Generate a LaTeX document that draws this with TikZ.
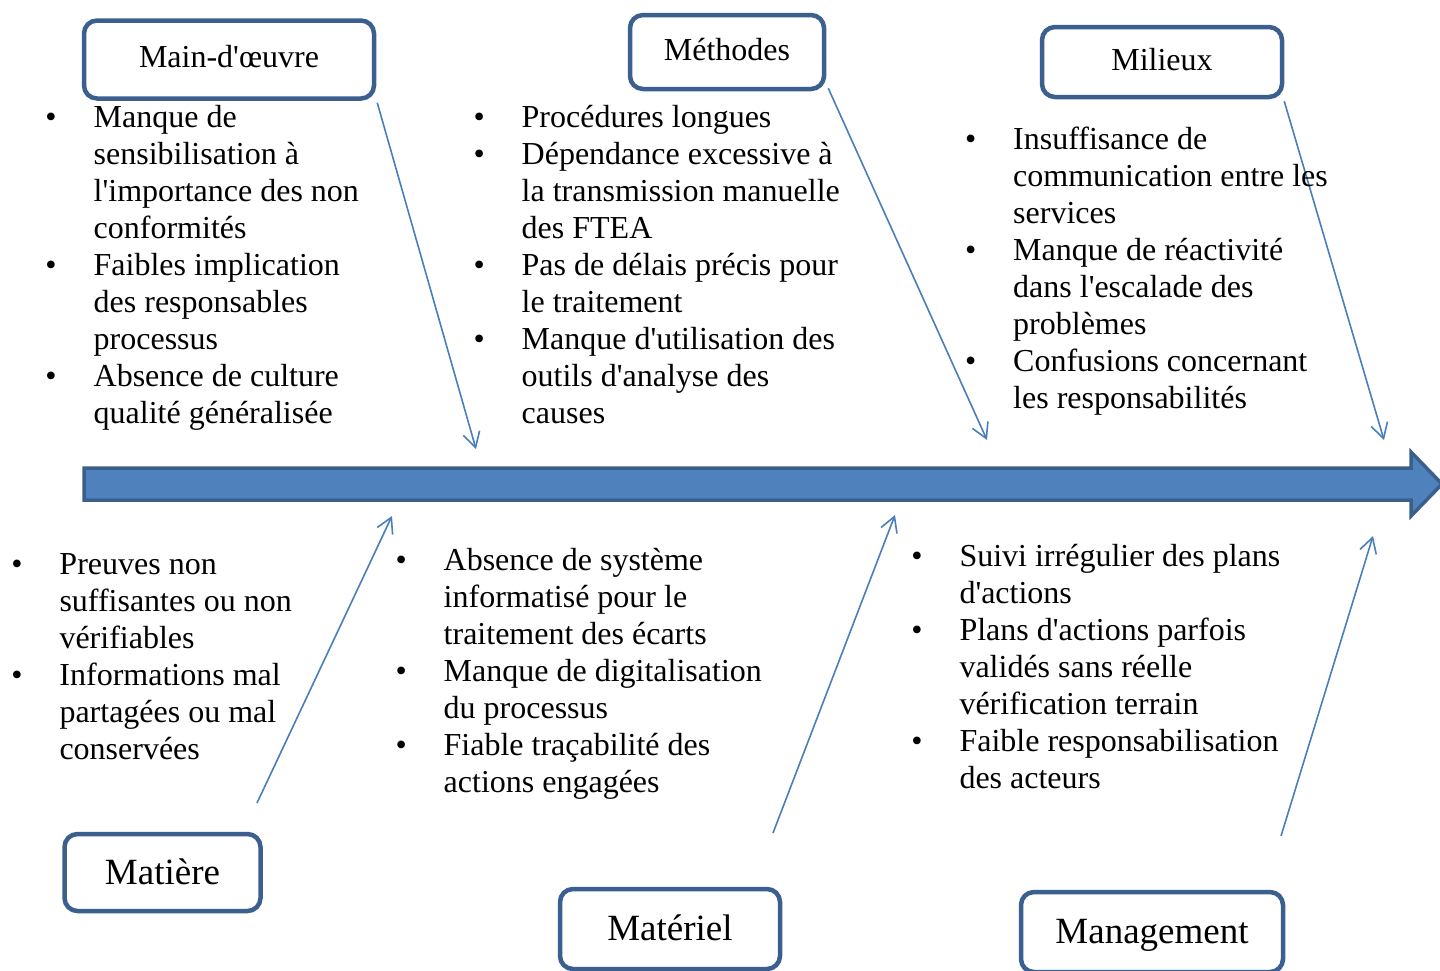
\documentclass[tikz,border=0pt]{standalone}
\usepackage{fontspec}
\setmainfont{Liberation Serif}[Ligatures=TeXOff]
\usetikzlibrary{arrows.meta}
\definecolor{spinefill}{HTML}{4F81BD}
\definecolor{spineedge}{HTML}{3A5F8C}
\definecolor{boxedge}{HTML}{3B5F8E}
\definecolor{boneline}{HTML}{4A7EBB}
% bullet set 37pt to the left of the text column
\newcommand{\itm}{\llap{\textbullet\hspace{37pt}}}
% box labels sit a little below the middle of their boxes
\newcommand{\lowsmall}[1]{\raisebox{-4.5pt}{#1}}
\newcommand{\lowbig}[1]{\raisebox{-7pt}{#1}}
\begin{document}
\begin{tikzpicture}[x=1pt,y=-1pt,
  catbox/.style={draw=boxedge, line width=4.5pt, rounded corners=13pt, fill=white,
    inner sep=0pt, text depth=0pt},
  smallcat/.style={catbox, font=\fontsize{32}{37}\selectfont, text height=0.78em},
  bigcat/.style={catbox, font=\fontsize{37}{42}\selectfont, text height=0.92em},
  bone/.style={draw=boneline, line width=1.6pt,
    -{Straight Barb[length=15pt,width=17pt,line width=1.6pt]}},
  causes/.style={anchor=north west, inner sep=0pt, align=left,
    font=\fontsize{32}{37}\selectfont},
]
\useasboundingbox (0,0) rectangle (1440,970);
\clip (0,0) rectangle (1440,970);

% spine of the fishbone
\draw[fill=spinefill, draw=spineedge, line width=3.5pt, line join=miter]
  (84,468) -- (1411,468) -- (1411,452) -- (1442,484) -- (1411,516)
  -- (1411,500) -- (84,500) -- cycle;

% category boxes
\node[smallcat, minimum width=290pt, minimum height=78pt] (mo)  at (229,59.5) {\lowsmall{Main-d'œuvre}};
\node[smallcat, minimum width=194pt, minimum height=74pt] (met) at (727,52) {\lowsmall{Méthodes}};
\node[smallcat, minimum width=240pt, minimum height=70pt] (mil) at (1162,62) {\lowsmall{Milieux}};
\node[bigcat, minimum width=196pt, minimum height=77pt] (mat) at (162.5,872.5) {\lowbig{Matière}};
\node[bigcat, minimum width=220pt, minimum height=80pt] (mtl) at (670,929) {\lowbig{Matériel}};
\node[bigcat, minimum width=262pt, minimum height=80pt] (mgt) at (1152,932) {\lowbig{Management}};

% ends of the bones
\coordinate (moE)  at (476,449);
\coordinate (metE) at (987,440);
\coordinate (milE) at (1384,440);
\coordinate (matS) at (257,803);
\coordinate (matE) at (392,516);
\coordinate (mtlS) at (773,833);
\coordinate (mtlE) at (895,515);
\coordinate (mgtS) at (1281,836);
\coordinate (mgtE) at (1373,536);

\draw[bone] (mo.south east) ++(1,2) -- (moE);
\draw[bone] (met.south east) ++(2,-3) -- (metE);
\draw[bone] (mil.south east) ++(0,2) -- (milE);
\draw[bone] (matS) -- (matE);
\draw[bone] (mtlS) -- (mtlE);
\draw[bone] (mgtS) -- (mgtE);

% causes
\node[causes] (moT) at (93.5,101.4) {\itm\strut Manque de\\
  sensibilisation à\\ l'importance des non\\ conformités\\
  \itm Faibles implication\\ des responsables\\ processus\\
  \itm Absence de culture\\ qualité généralisée};

\node[causes] (metT) at (521.5,101.3) {\itm\strut Procédures longues\\
  \itm Dépendance excessive à\\ la transmission manuelle\\ des FTEA\\
  \itm Pas de délais précis pour\\ le traitement\\
  \itm Manque d'utilisation des\\ outils d'analyse des\\ causes};

\node[causes] (milT) at (1013,123.5) {\itm\strut Insuffisance de\\
  communication entre les\\ services\\
  \itm Manque de réactivité\\ dans l'escalade des\\ problèmes\\
  \itm Confusions concernant\\ les responsabilités};

\node[causes] (matT) at (59.3,548.6) {\itm\strut Preuves non\\
  suffisantes ou non\\ vérifiables\\
  \itm Informations mal\\ partagées ou mal\\ conservées};

\node[causes] (mtlT) at (443.5,544.6) {\itm\strut Absence de système\\
  informatisé pour le\\ traitement des écarts\\
  \itm Manque de digitalisation\\ du processus\\
  \itm Fiable traçabilité des\\ actions engagées};

\node[causes] (mgtT) at (959.3,540.6) {\itm\strut Suivi irrégulier des plans\\
  d'actions\\
  \itm Plans d'actions parfois\\ validés sans réelle\\ vérification terrain\\
  \itm Faible responsabilisation\\ des acteurs};
\end{tikzpicture}
\end{document}
